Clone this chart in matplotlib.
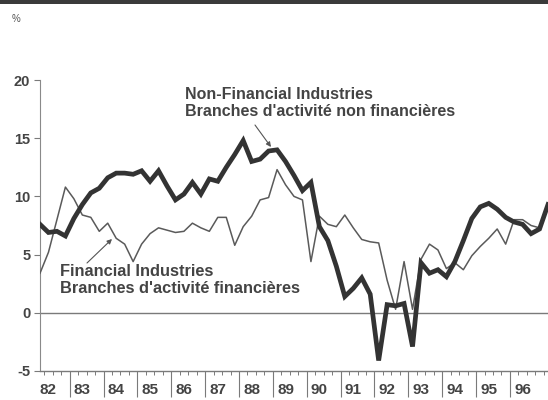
import numpy as np
import matplotlib
matplotlib.use("Agg")
import matplotlib.pyplot as plt

plt.rcParams['font.family'] = ['Liberation Sans', 'DejaVu Sans']

# Quarterly data, 1982Q1 .. 1997Q1
start_year = 1982
non_financial = [7.6, 6.9, 7.0, 6.6, 8.1, 9.3, 10.3, 10.7, 11.6, 12.0,
                 12.0, 11.9, 12.2, 11.3, 12.2, 10.9, 9.7, 10.2, 11.2, 10.2,
                 11.5, 11.3, 12.5, 13.6, 14.8, 13.0, 13.2, 13.9, 14.0, 13.0,
                 11.8, 10.5, 11.2, 7.4, 6.2, 4.0, 1.4, 2.1, 3.0, 1.6,
                 -4.1, 0.7, 0.6, 0.8, -2.9, 4.3, 3.4, 3.7, 3.1, 4.4,
                 6.2, 8.1, 9.1, 9.4, 8.9, 8.2, 7.8, 7.6, 6.8, 7.2,
                 9.3]
financial = [3.4, 5.2, 8.0, 10.8, 9.8, 8.4, 8.2, 7.0, 7.7, 6.4,
             5.9, 4.4, 5.9, 6.8, 7.3, 7.1, 6.9, 7.0, 7.7, 7.3,
             7.0, 8.2, 8.2, 5.8, 7.4, 8.3, 9.7, 9.9, 12.3, 11.0,
             10.0, 9.7, 4.4, 8.3, 7.6, 7.4, 8.4, 7.3, 6.3, 6.1,
             6.0, 2.8, 0.3, 4.4, 0.3, 4.6, 5.9, 5.4, 3.8, 4.3,
             3.7, 4.9, 5.7, 6.4, 7.2, 5.9, 8.0, 8.0, 7.5, 7.3,
             9.2]
year_labels = ['82', '83', '84', '85', '86', '87', '88', '89', '90', '91',
               '92', '93', '94', '95', '96']
y_ticks = [-5, 0, 5, 10, 15, 20]

nf_label = "Non-Financial Industries\nBranches d'activité non financières"
f_label = "Financial Industries\nBranches d'activité financières"

t = start_year + 0.125 + 0.25 * np.arange(len(non_financial))

W, H = 548, 400
fig = plt.figure(figsize=(W / 100, H / 100), dpi=100)
ax = fig.add_axes([40 / W, 1 - 371 / H, 508 / W, (371 - 80) / H])

ax.plot(t, financial, color='#5a5a5a', lw=1.1, zorder=3)
ax.plot(t, non_financial, color='#333333', lw=3.4, zorder=4,
        solid_joinstyle='miter')
ax.axhline(0, color='#7a7a7a', lw=1.0, zorder=2)

ax.set_xlim(t[0], t[-1])
ax.set_ylim(-5, 20)

for s in ['top', 'right']:
    ax.spines[s].set_visible(False)
ax.spines['left'].set_color('#8a8a8a')
ax.spines['bottom'].set_color('#7a7a7a')
ax.spines['left'].set_linewidth(0.8)
ax.spines['bottom'].set_linewidth(1.0)

ax.set_yticks(y_ticks)
ax.set_yticklabels([str(v) for v in y_ticks])
ax.tick_params(axis='y', length=4, width=0.8, color='#7a7a7a',
               labelsize=10.5, labelcolor='#444444', pad=3)
for lab in ax.get_yticklabels():
    lab.set_fontweight('bold')

years = np.arange(start_year, start_year + len(year_labels))
ax.set_xticks(years[1:])
ax.set_xticklabels([])
ax.set_xticks(np.arange(start_year + 0.25, t[-1], 0.25), minor=True)
ax.tick_params(axis='x', which='major', length=19, width=0.8, color='#7a7a7a')
ax.tick_params(axis='x', which='minor', length=3, width=0.7, color='#7a7a7a')

for y, lab in zip(years, year_labels):
    ax.annotate(lab, xy=(y, 0), xycoords=('data', 'axes fraction'),
                xytext=(3, -9), textcoords='offset points',
                ha='left', va='top', fontsize=11, fontweight='bold',
                color='#444444', annotation_clip=False)

def px(x, y):
    inv = ax.transData.inverted()
    return inv.transform(fig.transFigure.transform((x / W, 1 - y / H)))

fig.text(185 / W, 1 - 87 / H, nf_label, ha='left', va='top', fontsize=11.5,
         fontweight='bold', color='#444444', linespacing=1.2)
fig.text(60 / W, 1 - 264 / H, f_label, ha='left', va='top', fontsize=11.8,
         fontweight='bold', color='#444444', linespacing=1.2)

ax.annotate('', xy=px(271, 147), xytext=px(255, 125),
            arrowprops=dict(arrowstyle='-|>', color='#555555', lw=0.8,
                            mutation_scale=7, shrinkA=0, shrinkB=0))
ax.annotate('', xy=px(112, 239), xytext=px(87, 263),
            arrowprops=dict(arrowstyle='-|>', color='#555555', lw=0.8,
                            mutation_scale=7, shrinkA=0, shrinkB=0))

fig.add_artist(plt.Rectangle((0, 1 - 4 / H), 1, 4 / H, transform=fig.transFigure,
                             color='#3a3a3a', lw=0))
fig.text(12 / W, 1 - 24 / H, '%', fontsize=7, color='#555555', ha='left',
         va='bottom')

fig.savefig('out.png', dpi=100)
